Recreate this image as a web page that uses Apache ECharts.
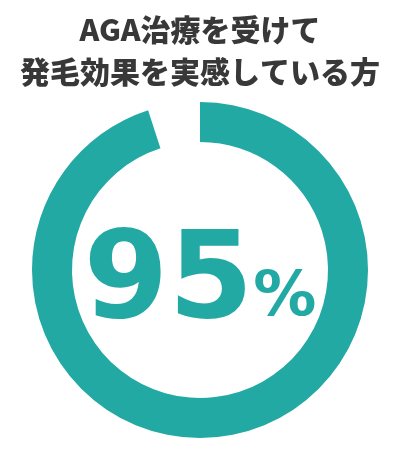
<!DOCTYPE html>
<html>
<head>
<meta charset="utf-8">
<script src="https://cdn.jsdelivr.net/npm/echarts@6/dist/echarts.min.js"></script>
<style>
  html, body { margin: 0; padding: 0; background: #fff; }
  #chart { width: 400px; height: 450px; }
</style>
</head>
<body>
<div id="chart"></div>
<script>
const titleLines = ['AGA治療を受けて', '発毛効果を実感している方'];
const sliceNames = ['実感している', 'その他'];
const sliceValues = [95, 5];
const sliceColors = ['#22a9a4', 'rgba(0,0,0,0)'];

const chart = echarts.init(document.getElementById('chart'));

const option = {
    animation: false,
    title: {
        text: titleLines.join('\n'),
        left: 'center',
        top: 4,
        textStyle: {
            fontFamily: '"Noto Sans CJK JP", sans-serif',
            fontSize: 30,
            fontWeight: 900,
            color: '#383838',
            lineHeight: 42
        }
    },
    series: [{
        type: 'pie',
        center: [200, 270],
        radius: [128, 168],
        startAngle: 90,
        clockwise: true,
        silent: true,
        labelLine: { show: false },
        data: sliceNames.map((n, i) => ({
            name: n,
            value: sliceValues[i],
            itemStyle: { color: sliceColors[i] },
            label: i === 0 ? {
                show: true,
                position: 'center',
                padding: [30, 0, 0, 0],
                formatter: p => '{a|' + p.value + '}{b|%}',
                rich: {
                    a: {
                        fontFamily: '"DejaVu Sans", sans-serif',
                        fontWeight: 'bold',
                        fontSize: 122,
                        lineHeight: 122,
                        verticalAlign: 'bottom',
                        color: '#22a9a4'
                    },
                    b: {
                        fontFamily: '"DejaVu Sans", sans-serif',
                        fontWeight: 'bold',
                        fontSize: 63,
                        lineHeight: 63,
                        verticalAlign: 'bottom',
                        color: '#22a9a4',
                        padding: [0, 0, 16, 0]
                    }
                }
            } : { show: false }
        }))
    }]
};

chart.setOption(option);
</script>
</body>
</html>
